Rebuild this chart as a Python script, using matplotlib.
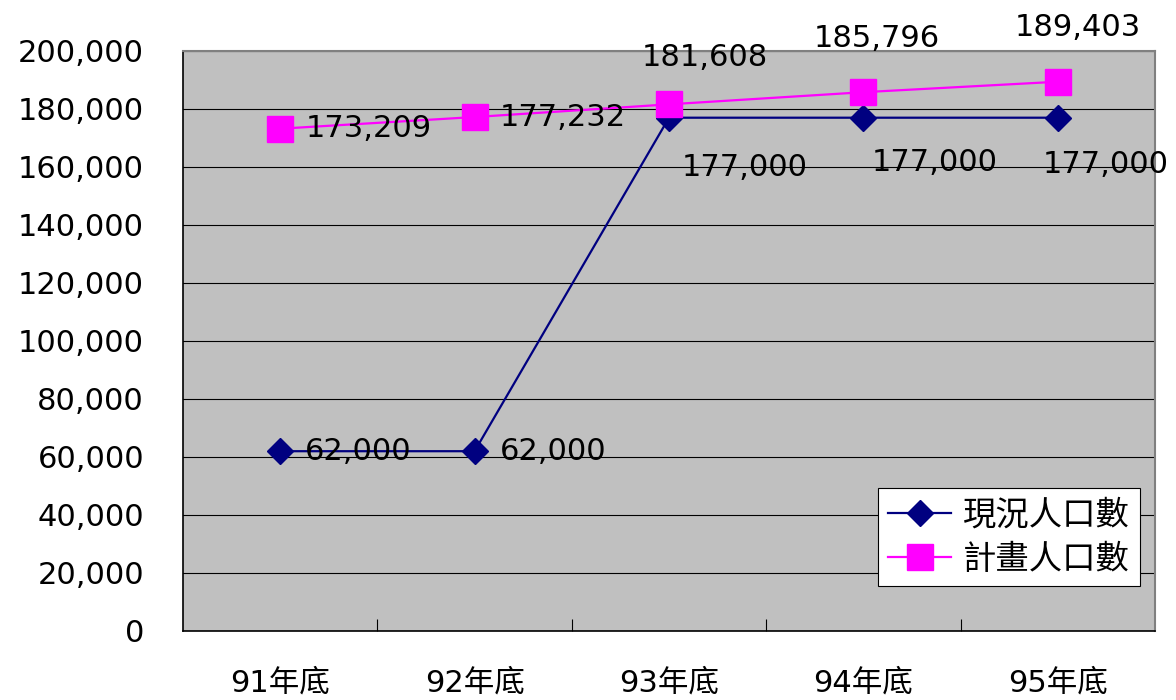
import numpy as np
import matplotlib.pyplot as plt
from matplotlib.ticker import FuncFormatter, FixedLocator

plt.rcParams['font.family'] = ['DejaVu Sans', 'Noto Sans CJK TC']

# data
categories = ['91年底', '92年底', '93年底', '94年底', '95年底']
current_pop = [62000, 62000, 177000, 177000, 177000]
planned_pop = [173209, 177232, 181608, 185796, 189403]

x = np.arange(len(categories))

fig = plt.figure(figsize=(11.76, 7.0), dpi=100)
ax = fig.add_axes([183 / 1176, 69 / 700, 972 / 1176, 580 / 700])
ax.set_facecolor('#C0C0C0')

ax.plot(x, current_pop, color='#000080', lw=1.6, marker='D', ms=13.5,
        mfc='#000080', mec='#000080', label='現況人口數', zorder=3)
ax.plot(x, planned_pop, color='#FF00FF', lw=1.6, marker='s', ms=19,
        mfc='#FF00FF', mec='#FF00FF', label='計畫人口數', zorder=4)

# data labels (offsets in points)
fs = 22
plan_off = [(18, 0), (18, 0), (-20, 34), (-36, 39), (-31, 39)]
cur_off = [(18, 0), (18, 0), (9, -36), (6, -32), (-11, -34)]
for i in range(len(x)):
    ax.annotate(f'{planned_pop[i]:,}', (x[i], planned_pop[i]), xytext=plan_off[i],
                textcoords='offset points', ha='left', va='center', fontsize=fs,
                zorder=5, annotation_clip=False)
    ax.annotate(f'{current_pop[i]:,}', (x[i], current_pop[i]), xytext=cur_off[i],
                textcoords='offset points', ha='left', va='center', fontsize=fs,
                zorder=5, annotation_clip=False)

ax.set_xlim(-0.5, len(x) - 0.5)
ax.set_ylim(0, 200000)
ax.set_yticks(np.arange(0, 200001, 20000))
ax.yaxis.set_major_formatter(FuncFormatter(lambda v, p: f'{int(v):,}'))
ax.yaxis.grid(True, color='black', lw=0.8)
ax.set_axisbelow(True)
ax.tick_params(axis='y', length=0, pad=28, labelsize=fs)

ax.xaxis.set_major_locator(FixedLocator(np.arange(0.5, len(x) - 0.5, 1)))
ax.xaxis.set_major_formatter(FuncFormatter(lambda v, p: ''))
ax.xaxis.set_minor_locator(FixedLocator(x))
ax.set_xticklabels(categories, minor=True)
ax.tick_params(axis='x', which='major', direction='in', length=9, width=0.8)
ax.tick_params(axis='x', which='minor', length=0, pad=27, labelsize=fs)

for s in ['top', 'right']:
    ax.spines[s].set_color('#808080')
    ax.spines[s].set_linewidth(1.5)
for s in ['left', 'bottom']:
    ax.spines[s].set_color('black')
    ax.spines[s].set_linewidth(1.2)

leg = ax.legend(loc='lower right', bbox_to_anchor=(0.9846, 0.0776), fontsize=24,
                frameon=True, fancybox=False, framealpha=1, edgecolor='black',
                handlelength=1.9, borderpad=0.3, labelspacing=0.35, handletextpad=0.35,
                borderaxespad=0)
leg.get_frame().set_linewidth(0.8)

fig.savefig('out.png', dpi=100)
